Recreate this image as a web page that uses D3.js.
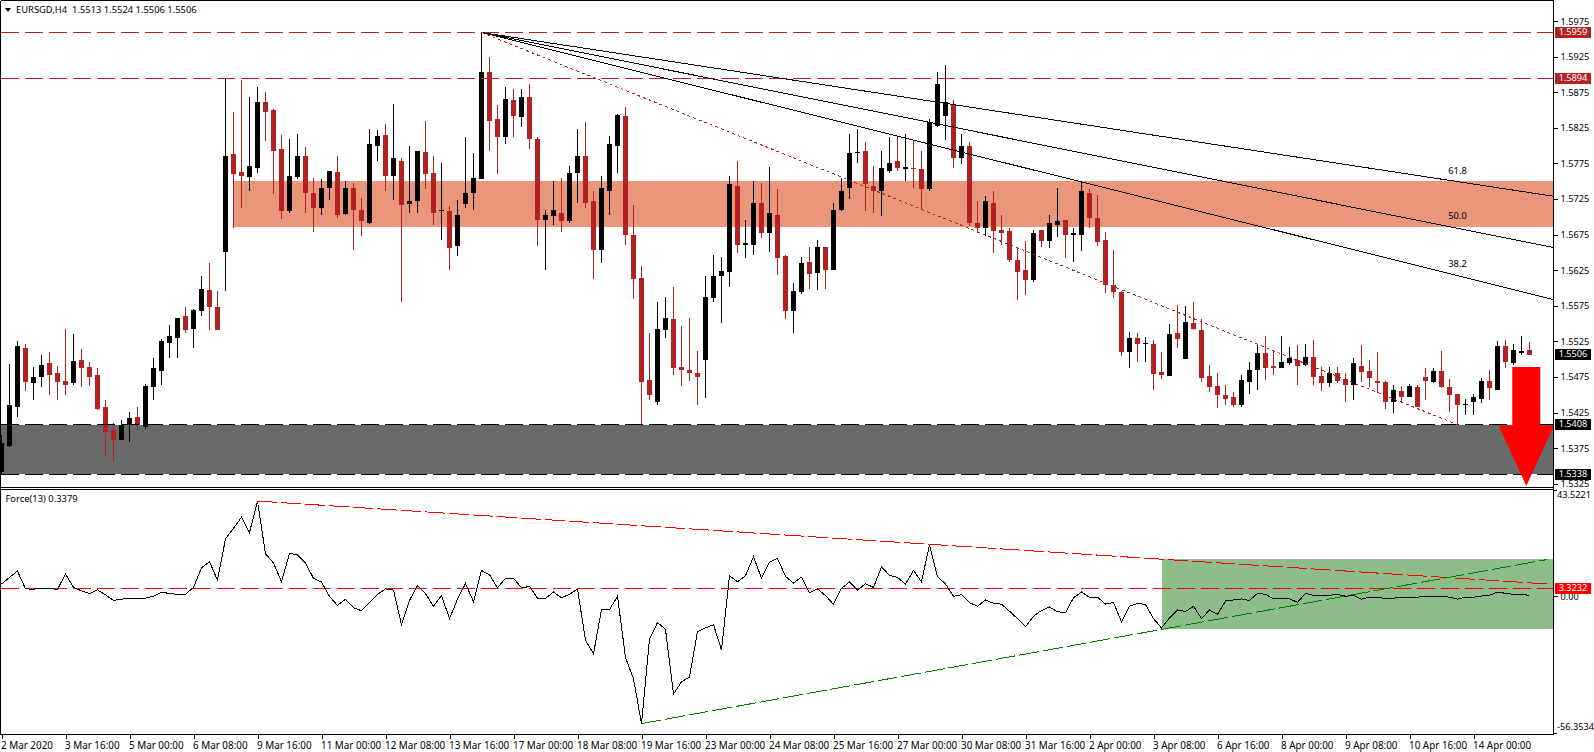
<!DOCTYPE html>
<html><head><meta charset="utf-8">
<script src="https://cdn.jsdelivr.net/npm/d3@7/dist/d3.min.js"></script>
<style>
html,body{margin:0;padding:0;background:#fff;overflow:hidden}
svg{display:block}
text{font-family:"Noto Sans","Liberation Sans",sans-serif;font-size:9.4px;fill:#000}
.tick text,.tag{font-size:9.2px}
.time .tick text{font-size:9.9px}
</style></head><body>
<svg id="c" width="1594" height="752"></svg>
<script>
const opens=[1.5342,1.5378,1.5433,1.5516,1.5467,1.5475,1.5494,1.5480,1.5470,1.5466,
1.5499,1.5489,1.5478,1.5433,1.5401,1.5387,1.5407,1.5419,1.5405,1.5461,
1.5484,1.5523,1.5530,1.5560,1.5543,1.5568,1.5597,1.5574,1.5651,1.5788,
1.5763,1.5756,1.5768,1.5862,1.5850,1.5796,1.5708,1.5756,1.5785,1.5733,
1.5712,1.5740,1.5763,1.5704,1.5740,1.5709,1.5692,1.5799,1.5815,1.5758,
1.5779,1.5718,1.5722,1.5791,1.5761,1.5708,1.5708,1.5659,1.5718,1.5733,
1.5753,1.5904,1.5837,1.5812,1.5864,1.5840,1.5869,1.5810,1.5695,1.5701,
1.5706,1.5694,1.5762,1.5785,1.5722,1.5653,1.5736,1.5800,1.5841,1.5675,
1.5614,1.5471,1.5440,1.5541,1.5557,1.5489,1.5485,1.5480,1.5499,1.5586,
1.5617,1.5622,1.5744,1.5661,1.5660,1.5719,1.5677,1.5703,1.5645,1.5568,
1.5594,1.5636,1.5621,1.5657,1.5626,1.5709,1.5740,1.5789,1.5792,1.5744,
1.5736,1.5765,1.5778,1.5767,1.5768,1.5767,1.5739,1.5828,1.5841,1.5859,
1.5783,1.5799,1.5692,1.5684,1.5719,1.5681,1.5680,1.5640,1.5625,1.5611,
1.5681,1.5666,1.5688,1.5695,1.5674,1.5674,1.5734,1.5699,1.5667,1.5604,
1.5594,1.5510,1.5530,1.5522,1.5521,1.5482,1.5476,1.5537,1.5500,1.5551,
1.5541,1.5477,1.5463,1.5449,1.5447,1.5436,1.5468,1.5485,1.5508,1.5491,
1.5488,1.5495,1.5499,1.5492,1.5503,1.5477,1.5467,1.5480,1.5472,1.5464,
1.5491,1.5484,1.5470,1.5468,1.5440,1.5456,1.5447,1.5461,1.5475,1.5468,
1.5484,1.5461,1.5451,1.5435,1.5440,1.5444,1.5470,1.5457,1.5518,1.5495,
1.5509,1.5513];
const highs=[1.5393,1.5493,1.5525,1.5522,1.5489,1.5506,1.5510,1.5491,1.5543,1.5536,
1.5515,1.5496,1.5487,1.5442,1.5411,1.5414,1.5426,1.5433,1.5465,1.5502,
1.5529,1.5548,1.5558,1.5574,1.5571,1.5617,1.5635,1.5596,1.5894,1.5847,
1.5892,1.5869,1.5882,1.5876,1.5852,1.5815,1.5810,1.5816,1.5798,1.5754,
1.5753,1.5765,1.5785,1.5751,1.5747,1.5726,1.5823,1.5822,1.5831,1.5858,
1.5782,1.5800,1.5793,1.5834,1.5785,1.5775,1.5715,1.5723,1.5812,1.5789,
1.5959,1.5924,1.5857,1.5883,1.5879,1.5880,1.5886,1.5812,1.5709,1.5751,
1.5755,1.5771,1.5824,1.5833,1.5736,1.5757,1.5813,1.5844,1.5854,1.5716,
1.5631,1.5537,1.5581,1.5588,1.5602,1.5547,1.5558,1.5512,1.5617,1.5647,
1.5644,1.5758,1.5779,1.5696,1.5750,1.5747,1.5770,1.5739,1.5646,1.5607,
1.5643,1.5657,1.5667,1.5657,1.5720,1.5755,1.5817,1.5824,1.5805,1.5771,
1.5793,1.5812,1.5813,1.5816,1.5806,1.5793,1.5837,1.5903,1.5914,1.5864,
1.5817,1.5805,1.5722,1.5729,1.5737,1.5702,1.5685,1.5657,1.5666,1.5682,
1.5682,1.5702,1.5740,1.5695,1.5685,1.5750,1.5739,1.5730,1.5678,1.5653,
1.5596,1.5538,1.5537,1.5531,1.5527,1.5510,1.5549,1.5576,1.5575,1.5580,
1.5556,1.5492,1.5480,1.5464,1.5454,1.5478,1.5496,1.5522,1.5533,1.5512,
1.5533,1.5517,1.5520,1.5522,1.5527,1.5489,1.5489,1.5489,1.5481,1.5501,
1.5520,1.5499,1.5510,1.5470,1.5464,1.5463,1.5465,1.5464,1.5487,1.5488,
1.5512,1.5472,1.5451,1.5444,1.5451,1.5474,1.5485,1.5525,1.5527,1.5522,
1.5533,1.5524];
const lows=[1.5337,1.5377,1.5419,1.5456,1.5442,1.5461,1.5450,1.5442,1.5450,1.5464,
1.5461,1.5463,1.5428,1.5364,1.5356,1.5386,1.5384,1.5401,1.5402,1.5443,
1.5464,1.5501,1.5501,1.5537,1.5516,1.5561,1.5541,1.5541,1.5596,1.5684,
1.5712,1.5736,1.5761,1.5807,1.5732,1.5697,1.5706,1.5753,1.5705,1.5678,
1.5702,1.5723,1.5699,1.5702,1.5654,1.5673,1.5690,1.5778,1.5737,1.5723,
1.5580,1.5705,1.5706,1.5739,1.5689,1.5667,1.5625,1.5645,1.5712,1.5710,
1.5753,1.5793,1.5760,1.5802,1.5812,1.5826,1.5796,1.5659,1.5626,1.5689,
1.5678,1.5691,1.5719,1.5712,1.5612,1.5635,1.5702,1.5762,1.5661,1.5584,
1.5408,1.5443,1.5435,1.5530,1.5478,1.5463,1.5470,1.5436,1.5446,1.5581,
1.5551,1.5601,1.5649,1.5642,1.5646,1.5670,1.5650,1.5618,1.5557,1.5537,
1.5591,1.5598,1.5597,1.5598,1.5625,1.5708,1.5725,1.5776,1.5708,1.5706,
1.5701,1.5762,1.5764,1.5750,1.5741,1.5710,1.5736,1.5826,1.5808,1.5768,
1.5774,1.5687,1.5677,1.5673,1.5649,1.5660,1.5636,1.5583,1.5590,1.5609,
1.5657,1.5656,1.5671,1.5642,1.5637,1.5652,1.5684,1.5659,1.5593,1.5586,
1.5504,1.5488,1.5496,1.5496,1.5457,1.5472,1.5476,1.5516,1.5500,1.5541,
1.5468,1.5454,1.5432,1.5435,1.5433,1.5433,1.5451,1.5457,1.5471,1.5478,
1.5487,1.5492,1.5464,1.5491,1.5464,1.5456,1.5461,1.5467,1.5440,1.5443,
1.5468,1.5461,1.5453,1.5430,1.5425,1.5439,1.5447,1.5433,1.5443,1.5466,
1.5460,1.5426,1.5408,1.5421,1.5422,1.5439,1.5443,1.5457,1.5487,1.5492,
1.5506,1.5506];
const closes=[1.5382,1.5436,1.5518,1.5468,1.5475,1.5492,1.5478,1.5468,1.5464,1.5498,
1.5488,1.5475,1.5430,1.5398,1.5386,1.5407,1.5418,1.5407,1.5463,1.5487,
1.5525,1.5533,1.5558,1.5541,1.5569,1.5599,1.5574,1.5541,1.5786,1.5760,
1.5757,1.5772,1.5861,1.5847,1.5793,1.5708,1.5758,1.5785,1.5733,1.5712,
1.5740,1.5764,1.5702,1.5740,1.5709,1.5694,1.5802,1.5813,1.5757,1.5782,
1.5716,1.5722,1.5792,1.5760,1.5706,1.5709,1.5656,1.5702,1.5733,1.5755,
1.5903,1.5835,1.5812,1.5865,1.5841,1.5869,1.5809,1.5696,1.5702,1.5710,
1.5694,1.5762,1.5786,1.5719,1.5653,1.5740,1.5803,1.5843,1.5675,1.5612,
1.5468,1.5450,1.5543,1.5558,1.5488,1.5485,1.5480,1.5475,1.5588,1.5617,
1.5624,1.5746,1.5660,1.5663,1.5719,1.5677,1.5705,1.5642,1.5568,1.5596,
1.5635,1.5619,1.5657,1.5625,1.5709,1.5737,1.5789,1.5791,1.5746,1.5736,
1.5768,1.5775,1.5768,1.5770,1.5767,1.5739,1.5833,1.5887,1.5861,1.5783,
1.5800,1.5691,1.5684,1.5722,1.5680,1.5677,1.5639,1.5622,1.5611,1.5677,
1.5666,1.5691,1.5694,1.5675,1.5677,1.5736,1.5698,1.5664,1.5604,1.5594,
1.5510,1.5530,1.5521,1.5523,1.5479,1.5478,1.5535,1.5528,1.5552,1.5542,
1.5474,1.5461,1.5449,1.5444,1.5436,1.5471,1.5485,1.5508,1.5488,1.5487,
1.5496,1.5501,1.5491,1.5503,1.5475,1.5466,1.5481,1.5470,1.5464,1.5494,
1.5482,1.5474,1.5466,1.5440,1.5457,1.5447,1.5463,1.5433,1.5470,1.5484,
1.5461,1.5450,1.5436,1.5437,1.5447,1.5470,1.5459,1.5519,1.5496,1.5513,
1.5512,1.5506];
const force=[4.95,7.7,10.3,3.0,2.9,3.2,3.2,2.8,9.1,3.6,
2.2,1.1,2.6,0.6,-1.7,-1.2,-0.8,-0.8,-0.8,0,
1.7,1.1,0.8,0.8,3.6,11.6,14.0,6.6,23.4,27.7,
32.2,26.0,38.8,17.3,13.6,5.9,17.5,16.9,13.6,7.3,
5.8,-0.1,-3.7,-1.2,-4.7,-5.9,-2.5,0.8,3.0,2.5,
-11.6,-1.7,4.4,1.1,-4.1,0.3,-9.1,-1.2,5.2,-2.2,
10.5,8.8,3.4,7.4,7.4,3.4,4.0,-0.8,-0.8,1.7,
-0.6,0.8,2.9,-17.9,-23.5,-5.4,-5.4,0,-25.0,-33.6,
-51.9,-17.6,-10.7,-13.5,-39.9,-34.9,-32.9,-14.4,-12.9,-11.6,
-21.9,8.3,5.9,8.4,16.1,7.4,13.9,15.4,8.1,5.4,
7.8,1.4,3.0,0.3,-3.3,3.2,5.8,2.5,5.1,3.6,
12.0,8.5,7.7,5.0,10.5,5.9,21.0,8.0,5.0,0,
0.6,-2.6,-4.1,-1.5,-2.9,-3.2,-6.1,-9.1,-12.4,-8.1,
-5.8,-4.4,-6.3,-6.7,-0.6,1.7,-0.4,-0.4,-3.2,-2.5,
-10.5,-4.0,-2.9,-3.4,-9.1,-12.9,-8.8,-5.6,-6.2,-4.1,
-9.1,-5.6,-7.4,-1.9,-1.5,-1.1,-1.7,1.2,0.8,-1.1,
-0.8,-1.0,-2.5,1.2,0.4,0.4,0.4,0.8,0,0.4,
-1.2,-0.4,-0.4,-1.0,-0.8,-0.4,-0.4,-0.4,0.1,0.1,
0.1,-0.4,-1.2,-0.4,-0.4,0.1,0.4,1.7,1.2,0.8,
0.8,0.34];
const priceTicks=[1.5975,1.5925,1.5875,1.5825,1.5775,1.5725,1.5675,1.5625,1.5575,1.5525,1.5475,1.5425,1.5375,1.5325];
const timeLabels=["2 Mar 2020","3 Mar 16:00","5 Mar 00:00","6 Mar 08:00","9 Mar 16:00","11 Mar 00:00","12 Mar 08:00","13 Mar 16:00","17 Mar 00:00","18 Mar 08:00","19 Mar 16:00","23 Mar 00:00","24 Mar 08:00","25 Mar 16:00","27 Mar 00:00","30 Mar 08:00","31 Mar 16:00","2 Apr 00:00","3 Apr 08:00","6 Apr 16:00","8 Apr 00:00","9 Apr 08:00","10 Apr 16:00","14 Apr 00:00"];
const timeStep=8;
const resistanceLevels=[1.5959,1.5894];
const supportLevels=[1.5408,1.5338];
const salmonZone=[1.5686,1.5750], salmonStartBar=29;
const fan=[{label:"61.8",end:1.5729,labelPrice:1.5764},{label:"50.0",end:1.5657,labelPrice:1.5700},{label:"38.2",end:1.5584,labelPrice:1.5633}];
const fanStart={bar:60,price:1.5959};
const dottedEnd={bar:182,price:1.5408};
const forceLevel=3.3232;
const forceZone=[-13.3,15.0], forceZoneStartBar=145;
const forceDown=[[32,38.8],[193.25,5.0]];
const forceUp=[[80,-51.9],[193.25,15.0]];
const forceExtra=[43.5221,-56.3534];
const arrow=[[188.85,1.5489],[192.35,1.5489],[192.35,1.5407],[194.05,1.5407],[190.6,1.5322],[187.15,1.5407],[188.85,1.5407]];

const W=1594,H=752,axisX=1553,left=1,bottom1=487.5,top2=489.5,bottom2=734.5;
const x=d3.scaleLinear().domain([0,191]).range([1.5,1529.5]);
const y=d3.scaleLinear().domain([1.5325,1.5975]).range([483.75,21.1]);
const f=d3.scaleLinear().domain([-56.3534,43.5221]).range([bottom2,top2]);
const RED="#B22222",PURE="#FF0000",GREEN="#008000";
const svg=d3.select("#c");
const crisp=s=>s.attr("shape-rendering","crispEdges");
const line=(g,x1,y1,x2,y2,c,dash)=>crisp(g.append("line").attr("x1",x1).attr("y1",y1).attr("x2",x2).attr("y2",y2).attr("stroke",c).attr("stroke-width",1).attr("stroke-dasharray",dash||null));

// zones
const zones=svg.append("g");
crisp(zones.append("rect")).attr("x",x(salmonStartBar)).attr("width",axisX-x(salmonStartBar)).attr("y",y(salmonZone[1])).attr("height",y(salmonZone[0])-y(salmonZone[1])).attr("fill","#E9967A");
crisp(zones.append("rect")).attr("x",left).attr("width",axisX-left).attr("y",y(supportLevels[0])).attr("height",y(supportLevels[1])-y(supportLevels[0])).attr("fill","#696969");
crisp(zones.append("rect")).attr("x",x(forceZoneStartBar)).attr("width",axisX-x(forceZoneStartBar)).attr("y",f(forceZone[1])).attr("height",f(forceZone[0])-f(forceZone[1])).attr("fill","#8FBC8B");

// candles
const candles=svg.append("g");
opens.forEach((o,i)=>{
  const c=closes[i],col=c>=o?"#000":RED,cx=x(i);
  line(candles,cx,y(highs[i]),cx,y(lows[i]),col);
  const t=y(Math.max(o,c)),b=y(Math.min(o,c));
  crisp(candles.append("rect")).attr("x",cx-2.5).attr("width",5).attr("y",t).attr("height",Math.max(1,b-t)).attr("fill",col);
});

// horizontal levels
const lv=svg.append("g");
resistanceLevels.forEach(p=>line(lv,left,y(p),axisX,y(p),RED,"18,6"));
supportLevels.forEach(p=>line(lv,left,y(p),axisX,y(p),"#000","18,6"));

// fan
const fg=svg.append("g");
fan.forEach(d=>{
  line(fg,x(fanStart.bar),y(fanStart.price),axisX,y(d.end),"#000");
  fg.append("text").attr("x",x(182)).attr("y",y(d.labelPrice)).attr("text-anchor","middle").attr("dominant-baseline","middle").text(d.label);
});
line(fg,x(fanStart.bar),y(fanStart.price),x(dottedEnd.bar),y(dottedEnd.price),RED,"3,3");

// force pane
const fp=svg.append("g");
line(fp,left,f(forceLevel),axisX,f(forceLevel),PURE,"18,6");
line(fp,x(forceDown[0][0]),f(forceDown[0][1]),x(forceDown[1][0]),f(forceDown[1][1]),PURE,"20,4");
line(fp,x(forceUp[0][0]),f(forceUp[0][1]),x(forceUp[1][0]),f(forceUp[1][1]),GREEN,"20,4");
crisp(fp.append("path").datum(force).attr("fill","none").attr("stroke","#000").attr("stroke-width",1)
  .attr("d",d3.line().x((d,i)=>x(i)).y(d=>f(d))));

// arrow
svg.append("path").attr("fill",PURE).attr("d",d3.line().x(d=>x(d[0])).y(d=>y(d[1])).curve(d3.curveLinearClosed)(arrow));

// axes
const priceAxis=d3.axisRight(y).tickValues(priceTicks).tickSize(4).tickPadding(3).tickFormat(d3.format(".4f"));
const ga=svg.append("g").attr("transform",`translate(${axisX+.5},0)`).call(priceAxis);
ga.select(".domain").remove();
const fa=svg.append("g").attr("transform",`translate(${axisX+.5},0)`).call(d3.axisRight(f).tickValues([0]).tickSize(4).tickPadding(3).tickFormat(d3.format(".2f")));
fa.select(".domain").remove();
const xa=svg.append("g").attr("class","time").attr("transform",`translate(0,${bottom2})`).call(d3.axisBottom(x).tickValues(timeLabels.map((_,i)=>i*timeStep)).tickSize(4).tickPadding(3).tickFormat((d,i)=>timeLabels[i]));
xa.select(".domain").remove();
xa.selectAll("text").attr("text-anchor","start").attr("dx",-1);
svg.selectAll(".tick line").attr("shape-rendering","crispEdges");
svg.selectAll("g[font-size]").attr("font-size",null).attr("font-family",null);

// frame
const fr=svg.append("g");
line(fr,.5,.5,axisX+.5,.5,"#000");
line(fr,.5,.5,.5,bottom2,"#000");
line(fr,axisX+.5,.5,axisX+.5,bottom2+.5,"#000");
line(fr,.5,bottom1,axisX+.5,bottom1,"#000");
line(fr,.5,top2,axisX+.5,top2,"#000");
line(fr,.5,bottom2,axisX+.5,bottom2,"#000");

// force scale extremes
forceExtra.forEach((v,i)=>{
  svg.append("text").attr("class","tag").attr("x",axisX+4).attr("y",i?728:496).attr("dominant-baseline","middle").text(d3.format(".4f")(v).replace("\u2212","-"));
  line(fr,axisX+.5,i?bottom2-1:top2+1,axisX+4,i?bottom2-1:top2+1,"#000");
});

// value tags
const tag=(yy,txt,col)=>{
  crisp(svg.append("rect")).attr("x",axisX+2).attr("width",36).attr("y",yy-5.5).attr("height",11).attr("fill",col);
  svg.append("text").attr("class","tag").attr("x",axisX+20).attr("y",yy).attr("text-anchor","middle").attr("dominant-baseline","middle").style("fill","#fff").text(txt);
};
tag(y(1.5959),"1.5959",RED);
tag(y(1.5894),"1.5894",RED);
tag(y(closes[191]),"1.5506","#000");
tag(y(1.5408),"1.5408","#000");
tag(y(1.5338),"1.5338","#000");
tag(f(forceLevel),"3.3232",PURE);

// titles
svg.append("path").attr("d",d3.line()([[5,8],[11,8],[8,12]])).attr("fill","#000");
svg.append("text").attr("x",16).attr("y",10).attr("dominant-baseline","middle").attr("xml:space","preserve").text("EURSGD,H4  1.5513 1.5524 1.5506 1.5506");
svg.append("text").attr("x",5.5).attr("y",499).attr("dominant-baseline","middle").text("Force(13) 0.3379");
</script>
</body></html>
